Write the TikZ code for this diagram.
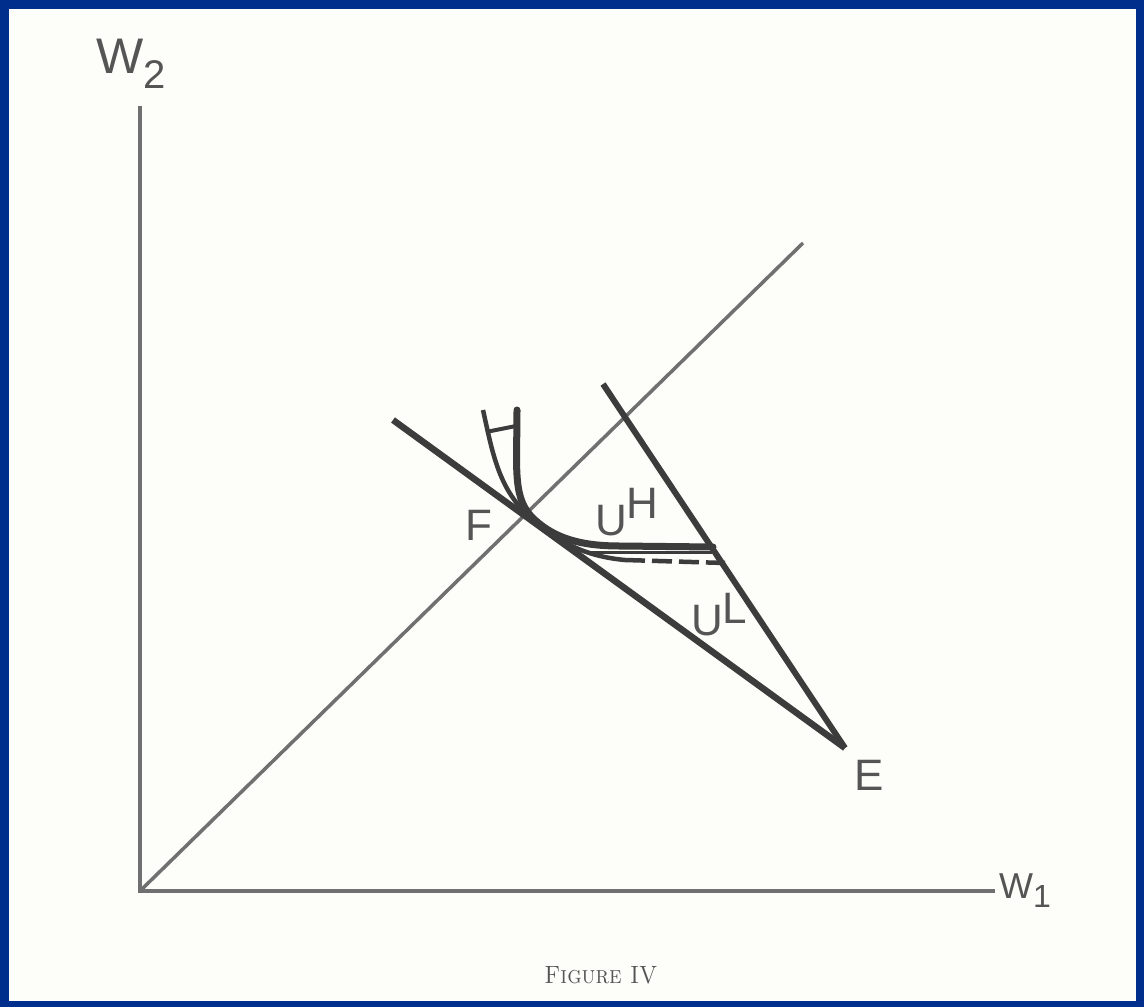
\documentclass[tikz,border=0pt]{standalone}
\usepackage{fontspec}
\newfontfamily\lab{Liberation Sans}
\definecolor{frameblue}{RGB}{0,46,140}
\definecolor{paper}{RGB}{253,253,249}
\definecolor{ink}{RGB}{60,60,60}
\definecolor{axisgray}{RGB}{112,112,112}
\definecolor{txtgray}{RGB}{85,85,85}
\begin{document}
\begin{tikzpicture}[x=1pt,y=-1pt,
  axisline/.style={draw=axisgray,line width=4pt},
  heavyline/.style={draw=ink,line width=6.5pt},
  curveline/.style={draw=ink,line width=7pt,line cap=round},
  hatchline/.style={draw=ink,line width=4.5pt},
  lbl/.style={font=\lab\fontsize{44}{44}\selectfont,text=txtgray,inner sep=0pt}]
\useasboundingbox (0,0) rectangle (1144,1007);
\fill[frameblue] (0,0) rectangle (1144,1007);
\fill[paper] (9,9) rectangle (1136,1001);
% points
\coordinate (O) at (140,891);
\coordinate (Ytop) at (140,106);
\coordinate (Xend) at (995,891);
\coordinate (Dend) at (803,243);
\coordinate (A) at (393,420);
\coordinate (B) at (603,384);
\coordinate (Ev) at (845,748);
% axes
\draw[axisline] (Ytop) -- (O) -- (Xend);
\draw[axisline,line width=3.5pt] (O) -- (Dend);
% lines
\draw[heavyline] (A) -- (Ev);
\draw[heavyline,line width=6pt] (B) -- (Ev);
% indifference curves
\draw[curveline] (517,410) .. controls (517,470) and (512,500) .. (535,520)
   .. controls (555,538) and (580,546) .. (620,546) -- (713,547);
\draw[hatchline] (483,410) .. controls (492,450) and (498,488) .. (528,515)
   .. controls (555,540) and (582,556) .. (625,560);
\draw[hatchline,dash pattern=on 20pt off 7pt] (625,560) -- (725,563);
\draw[ink,line width=3pt] (590,552) -- (712,552);
\draw[ink,line width=4pt] (486,432) -- (516,426);
% labels
\node[lbl,font=\lab\fontsize{50}{50}\selectfont,anchor=base west] (w2) at (96,73) {W\raisebox{-15pt}{\fontsize{40}{40}\selectfont 2}};
\node[lbl,font=\lab\fontsize{36}{36}\selectfont,anchor=base west] (w1) at (999,898) {W\raisebox{-9pt}{\fontsize{32}{32}\selectfont 1}};
\node[lbl,anchor=base west] (F) at (465,540) {F};
\node[lbl,anchor=base west] (UH) at (595,535) {U\raisebox{17pt}{H}};
\node[lbl,anchor=base west] (UL) at (691,635) {U\raisebox{12pt}{L}};
\node[lbl,anchor=base west] (E) at (854,790) {E};
\node[inner sep=0pt,text=txtgray,font=\fontsize{25}{25}\selectfont] (cap) at (601,975) {\scalebox{0.9}[1]{\textsc{Figure IV}}};
\end{tikzpicture}
\end{document}
